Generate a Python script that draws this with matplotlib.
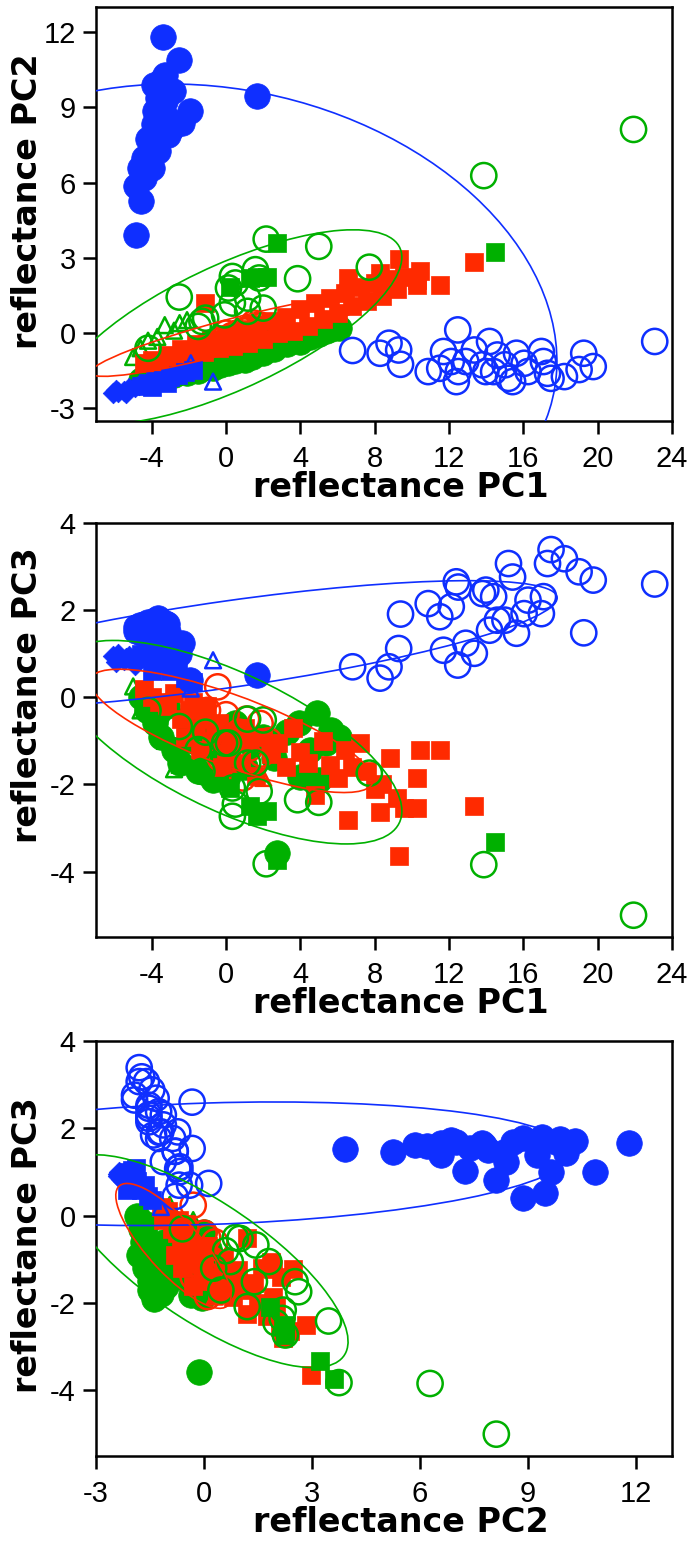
import matplotlib
matplotlib.use('Agg')
import matplotlib.pyplot as plt
from matplotlib.patches import Ellipse

plt.rcParams['axes.unicode_minus'] = False

BLUE = '#0f2fff'
GREEN = '#00b000'
RED = '#ff2a00'

# ---- blue group, filled circles (one entry per sample: PC1, PC2, PC3)
blue_dot_pc1 = [-3.38, -2.52, 1.64, -3.49, -2.87, -1.94, -2.35, -2.97, -3.69, -3.80, -3.90, -3.59,
                -3.69, -4.21, -4.42, -4.62, -4.00, -4.83, -4.56, -4.83, -3.18, -3.28, -3.49, -4.21,
                -4.00, -3.90, -3.30, -4.40, -3.10]
blue_dot_pc2 = [11.80, 10.87, 9.47, 10.05, 9.65, 8.85, 8.38, 8.12, 9.38, 8.85, 8.32, 7.78,
                7.25, 7.72, 6.99, 6.59, 6.59, 5.85, 5.26, 3.93, 8.58, 9.25, 9.78, 6.85,
                7.40, 9.90, 10.30, 6.20, 7.90]
blue_dot_pc3 = [1.66, 0.99, 0.51, 1.43, 1.00, 0.40, 1.24, 0.82, 1.81, 1.77, 1.47, 1.62,
                1.02, 1.66, 1.69, 1.66, 1.39, 1.62, 1.47, 1.53, 1.69, 1.39, 1.69, 1.73,
                1.55, 1.75, 1.70, 1.60, 1.50]

# ---- blue group, open circles
blue_ring_pc1 = [6.81, 8.29, 8.77, 9.29, 9.39, 10.88, 11.5, 11.70, 12.12, 12.39, 12.47, 12.5,
                 12.9, 13.36, 13.8, 13.98, 14.18, 14.4, 14.60, 15.01, 15.2, 15.42, 15.63, 16.04,
                 16.25, 16.97, 17.08, 17.49, 18.21, 19.25, 19.76, 23.07, 17.3, 19.0]
blue_ring_pc2 = [-0.69, -0.80, -0.40, -0.67, -1.24, -1.53, -1.4, -0.73, -1.13, -1.93, 0.13, -1.53,
                 -1.13, -0.67, -1.26, -1.53, -0.33, -1.53, -0.87, -1.26, -1.8, -1.93, -0.80, -1.2,
                 -1.53, -0.73, -1.13, -1.80, -1.73, -0.80, -1.33, -0.33, -1.6, -1.45]
blue_ring_pc3 = [0.70, 0.44, 0.70, 1.12, 1.91, 2.15, 1.85, 1.08, 2.08, 2.65, 0.74, 2.53,
                 1.24, 1.01, 2.38, 2.46, 1.54, 2.31, 1.77, 1.77, 3.07, 2.76, 1.47, 1.92,
                 2.23, 1.92, 2.31, 3.39, 3.18, 1.48, 2.69, 2.60, 3.07, 2.88]

# ---- blue group, diamonds / squares / open triangles
blue_dia_pc1 = [-6.1, -5.8, -5.5, -5.2, -4.9, -5.9, -5.4, -4.7]
blue_dia_pc2 = [-2.4, -2.35, -2.3, -2.2, -2.15, -2.25, -2.4, -2.05]
blue_dia_pc3 = [0.95, 1.0, 0.85, 0.95, 0.75, 0.8, 0.9, 0.85]

blue_sq_pc1 = [-4.6, -4.2, -3.8, -3.4, -3.0, -2.6, -2.2, -1.8, -4.0, -3.2]
blue_sq_pc2 = [-2.1, -2.0, -1.9, -1.85, -1.75, -1.65, -1.55, -1.45, -2.15, -2.0]
blue_sq_pc3 = [1.0, 0.9, 1.1, 0.8, 0.6, 0.7, 0.45, 0.35, 0.6, 1.05]

blue_tri_pc1 = [-0.7, -1.9]
blue_tri_pc2 = [-1.93, -1.2]
blue_tri_pc3 = [0.85, 0.2]

# ---- green group
green_dot_pc1 = [-4.6, -4.2, -3.8, -3.5, -3.2, -2.8, -2.5, -2.1, -1.8, -1.5, -1.1, -0.7, -0.3, 0.1,
                 0.5, 1.0, 1.4, 2.0, 2.6, 3.3, 3.9, 4.0, 4.5, 4.9, 5.0, 5.4, 5.65, 6.1, 2.75]
green_dot_pc2 = [-1.85, -1.75, -1.7, -1.8, -1.6, -1.65, -1.5, -1.6, -1.45, -1.5, -1.35, -1.4, -1.25, -1.2,
                 -1.1, -1.05, -0.95, -0.8, -0.65, -0.45, -0.25, -0.35, -0.15, 0.0, -0.05, 0.1, 0.15, 0.2, -0.15]
green_dot_pc3 = [0.0, -0.3, -0.6, -0.9, -0.2, -1.2, -1.5, -0.5, -1.0, -1.7, -0.8, -1.9, -1.3, -1.8,
                 -0.6, -1.6, -1.1, -0.9, -1.4, -0.8, -0.6, -1.82, -1.2, -0.37, -1.89, -1.05, -0.75, -0.9, -3.57]

green_ring_pc1 = [21.93, 13.87, 2.16, 4.99, 7.71, 3.85, -2.52, 0.34, 1.58, 1.78, 0.13, 1.16, 0.34,
                  -0.08, 1.16, -1.1, -1.5, 2.0, -4.2, -1.3, 0.5]
green_ring_pc2 = [8.12, 6.28, 3.75, 3.46, 2.63, 2.17, 1.44, 2.26, 2.53, 2.2, 1.8, 1.40, 1.2,
                  0.73, 0.87, 0.6, 0.27, 1.0, -0.6, 0.47, 2.0]
green_ring_pc3 = [-5.0, -3.84, -3.82, -2.41, -1.74, -2.35, -0.67, -2.73, -1.51, -2.16, -1.05, -1.51, -2.08,
                  -1.05, -0.5, -0.8, -1.2, -0.52, -0.3, -1.7, -2.45]

green_sq_pc1 = [2.75, 14.45, 1.67, 1.3, 2.2, 0.2]
green_sq_pc2 = [3.6, 3.23, 2.24, 2.2, 2.25, 1.84]
green_sq_pc3 = [-3.73, -3.32, -2.72, -2.5, -2.6, -2.08]

green_tri_pc1 = [-5.0, -4.6, -4.2, -3.7, -3.3, -2.8, -2.5, -2.1]
green_tri_pc2 = [-0.95, -0.6, -0.3, -0.15, 0.32, 0.1, 0.4, 0.52]
green_tri_pc3 = [0.25, -0.3, -0.1, -0.6, -1.0, -1.65, -1.55, -1.2]

# ---- red group
red_sq_pc1 = [-4.4, -4.0, -3.6, -3.2, -2.8, -2.4, -2.0, -1.6, -1.2, -0.8, -0.4, 0.0, 0.4, 0.8,
              1.2, 1.6, 2.0, 2.4, 2.8, 3.2, 3.6, 4.0, 4.4, 4.8, 5.2, 5.6, 6.0, 6.4, 6.8, 7.2,
              7.6, 8.0, 8.4, 8.8, 9.2, 9.6,
              -1.11, 6.54, 8.29, 9.33, 10.42, 11.54, 13.36, 10.26, 10.3,
              -2.2, -1.4, -0.6, 0.2, 1.0, -1.8, -1.0, -0.2]
red_sq_pc2 = [-1.2, -1.05, -1.15, -0.85, -1.0, -0.65, -0.9, -0.45, -0.75, -0.25, -0.6, -0.05, -0.5, 0.15,
              -0.4, 0.35, -0.25, 0.5, 0.0, 0.65, 0.1, 0.95, 0.3, 1.2, 0.55, 1.4, 0.8, 1.6, 1.1, 1.85,
              1.3, 2.0, 1.5, 2.15, 1.75, 2.25,
              1.2, 2.2, 2.4, 2.97, 2.46, 1.93, 2.83, 1.93, 2.1,
              -0.8, -0.6, -0.4, -0.2, 0.0, -0.7, -0.5, -0.3]
red_sq_pc3 = [0.2, 0.0, -0.1, -0.2, 0.1, -0.5, -0.3, -0.7, -0.4, -1.0, -0.6, -1.3, -0.8, -1.5,
              -1.0, -1.8, -0.9, -1.3, -1.05, -1.6, -0.7, -1.25, -1.5, -2.25, -1.0, -1.55, -1.85, -1.2, -1.6, -1.05,
              -1.7, -2.1, -2.0, -1.4, -2.3, -2.55,
              -0.5, -2.81, -2.64, -3.65, -1.22, -1.22, -2.5, -1.85, -2.54,
              -0.9, -1.2, -0.8, -1.1, -0.7, -0.1, -0.2, -1.6]

red_ring_pc1 = [-0.45, 0.9, 1.83, 1.29, 0.3, 0.0, 1.5, 0.6, -1.0, 2.3, -0.8, 0.2, 1.1, -0.3, 0.7, 1.9]
red_ring_pc2 = [-0.3, 0.1, 0.3, 0.2, -0.1, 0.0, 0.4, 0.0, -0.5, 0.2, -0.4, -0.2, 0.1, -0.3, -0.1, 0.3]
red_ring_pc3 = [0.24, -1.85, -0.6, -1.16, -0.9, -0.4, -1.5, -1.3, -0.3, -1.0, -0.7, -1.1, -0.5, -1.4, -0.8, -1.3]

red_tri_pc1 = [2.0, 0.6]
red_tri_pc2 = [0.3, 0.0]
red_tri_pc3 = [-1.85, -1.0]

# density ellipses per panel: colour, centre x, centre y, width, height, angle (data units)
ell_pc1_pc2 = [(BLUE, 0.0, 0.45, 35.8, 18.6, -6.9),
               (GREEN, 0.2, 0.25, 19.4, 5.15, 18.0),
               (RED, 0.3, -0.10, 15.5, 1.35, 11.0)]
ell_pc1_pc3 = [(BLUE, 0.0, 1.21, 35.7, 2.0, 3.45),
               (GREEN, 0.2, -1.03, 18.8, 3.39, -10.0),
               (RED, 0.3, -0.77, 15.4, 1.70, -8.5)]
ell_pc2_pc3 = [(BLUE, 0.1, 1.19, 20.2, 2.78, 1.5),
               (GREEN, 0.0, -1.04, 8.92, 2.87, -27.8),
               (RED, -0.85, -0.69, 4.08, 1.33, -41.0)]

# drawing order, bottom to top
layers = [
    ((green_dot_pc1, green_dot_pc2, green_dot_pc3), 'o', 340, GREEN, True),
    ((green_tri_pc1, green_tri_pc2, green_tri_pc3), '^', 130, GREEN, False),
    ((red_sq_pc1, red_sq_pc2, red_sq_pc3), 's', 175, RED, True),
    ((red_ring_pc1, red_ring_pc2, red_ring_pc3), 'o', 330, RED, False),
    ((red_tri_pc1, red_tri_pc2, red_tri_pc3), '^', 130, RED, False),
    ((green_ring_pc1, green_ring_pc2, green_ring_pc3), 'o', 330, GREEN, False),
    ((green_sq_pc1, green_sq_pc2, green_sq_pc3), 's', 175, GREEN, True),
    ((blue_dia_pc1, blue_dia_pc2, blue_dia_pc3), 'D', 110, BLUE, True),
    ((blue_sq_pc1, blue_sq_pc2, blue_sq_pc3), 's', 180, BLUE, True),
    ((blue_tri_pc1, blue_tri_pc2, blue_tri_pc3), '^', 130, BLUE, False),
    ((blue_dot_pc1, blue_dot_pc2, blue_dot_pc3), 'o', 340, BLUE, True),
    ((blue_ring_pc1, blue_ring_pc2, blue_ring_pc3), 'o', 330, BLUE, False),
]

TICK_FONT = dict(family=['Liberation Sans', 'DejaVu Sans'], size=21)
LABEL_FONT = dict(family='DejaVu Sans', weight='bold', size=24)


def draw_panel(ax, xi, yi, ellipses, xlim, ylim, xticks, yticks, xlabel, ylabel, ylab_y):
    for pcs, marker, size, color, filled in layers:
        xs, ys = pcs[xi], pcs[yi]
        if filled:
            ax.scatter(xs, ys, s=size, marker=marker, c=color, edgecolors=color,
                       linewidths=0.5, zorder=2)
        else:
            ax.scatter(xs, ys, s=size, marker=marker, facecolors='none', edgecolors=color,
                       linewidths=1.8, zorder=2)
    for color, cx, cy, w, h, ang in ellipses:
        ax.add_patch(Ellipse((cx, cy), w, h, angle=ang, fill=False, edgecolor=color,
                             linewidth=1.2, zorder=3))

    ax.set_xlim(*xlim)
    ax.set_ylim(*ylim)
    ax.set_xticks(xticks)
    ax.set_yticks(yticks)
    ax.set_xticklabels([str(t) for t in xticks], **TICK_FONT)
    ax.set_yticklabels([str(t) for t in yticks], **TICK_FONT)
    ax.tick_params(direction='out', length=9.5, width=1.8, color='black')
    ax.tick_params(axis='x', pad=8)
    ax.tick_params(axis='y', pad=5)
    for sp in ax.spines.values():
        sp.set_linewidth(1.8)
    ax.set_xlabel(xlabel, **LABEL_FONT)
    ax.set_ylabel(ylabel, **LABEL_FONT)
    ax.xaxis.set_label_coords(0.53, -0.12)
    ax.yaxis.set_label_coords(-0.09, ylab_y)


def main():
    fig = plt.figure(figsize=(6.93, 15.45), dpi=100)
    W, H = 693.0, 1545.0
    left, width = 96 / W, 576 / W

    ax1 = fig.add_axes([left, 1 - 421 / H, width, 414 / H])
    draw_panel(ax1, 0, 1, ell_pc1_pc2, (-7, 24), (-3.5, 13),
               [-4, 0, 4, 8, 12, 16, 20, 24], [-3, 0, 3, 6, 9, 12],
               'reflectance PC1', 'reflectance PC2', 0.53)

    ax2 = fig.add_axes([left, 1 - 937 / H, width, 414 / H])
    draw_panel(ax2, 0, 2, ell_pc1_pc3, (-7, 24), (-5.5, 4),
               [-4, 0, 4, 8, 12, 16, 20, 24], [-4, -2, 0, 2, 4],
               'reflectance PC1', 'reflectance PC3', 0.585)

    ax3 = fig.add_axes([left, 1 - 1456 / H, width, 415 / H])
    draw_panel(ax3, 1, 2, ell_pc2_pc3, (-3, 13), (-5.5, 4),
               [-3, 0, 3, 6, 9, 12], [-4, -2, 0, 2, 4],
               'reflectance PC2', 'reflectance PC3', 0.507)

    fig.savefig('out.png', dpi=100)
    plt.close(fig)


if __name__ == '__main__':
    main()
